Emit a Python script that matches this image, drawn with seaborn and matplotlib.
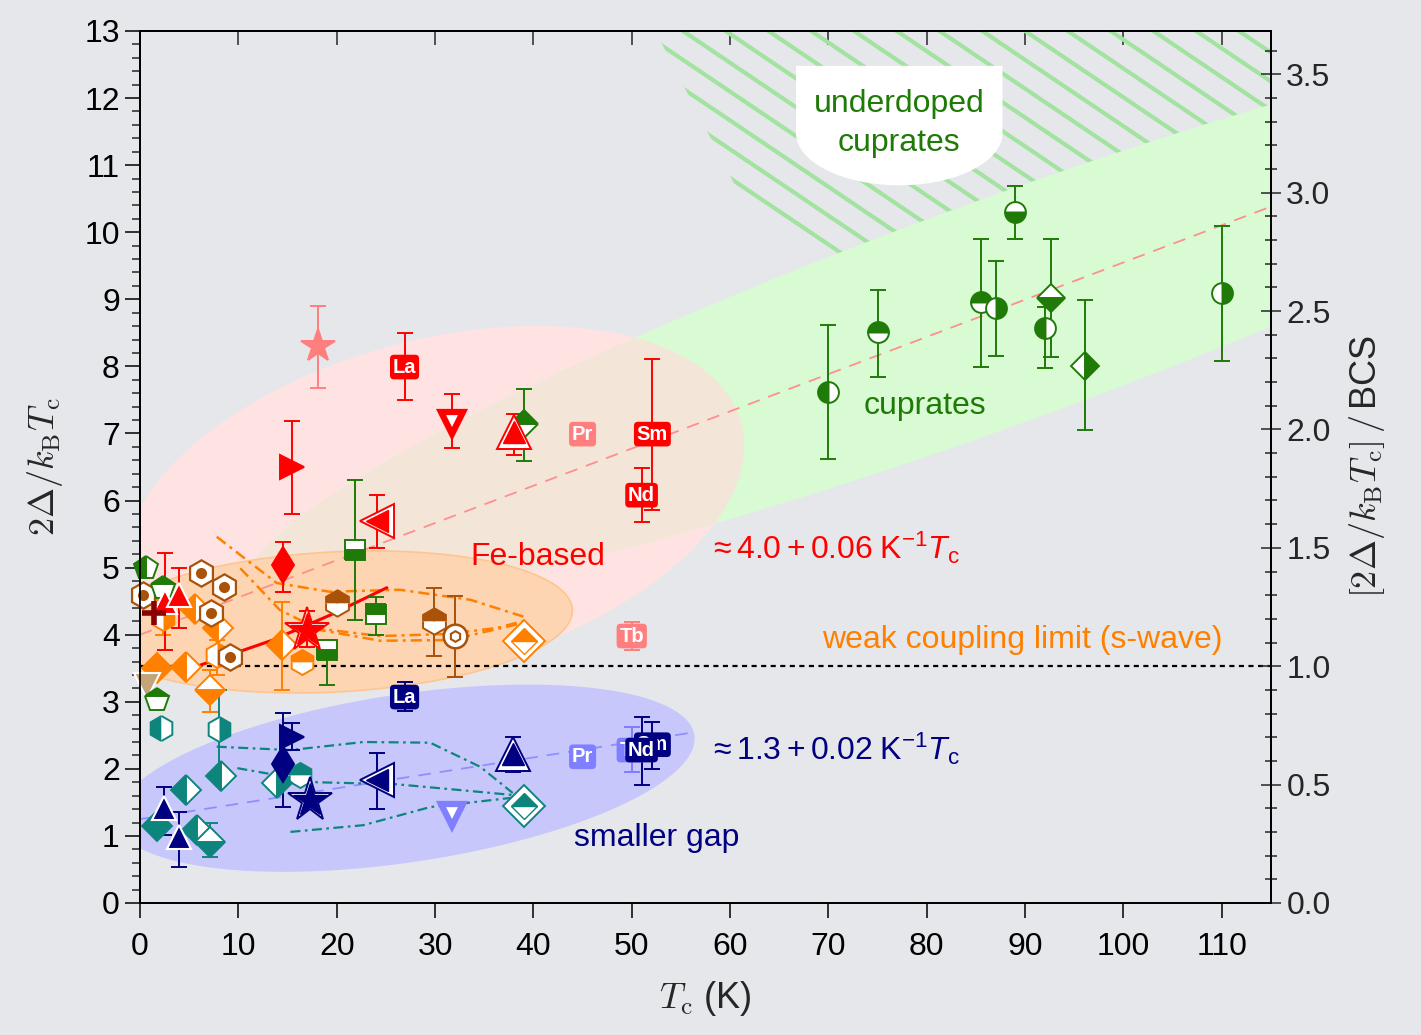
import numpy as np
import matplotlib
matplotlib.use("Agg")
import matplotlib.pyplot as plt
import seaborn as sns
from matplotlib.patches import Polygon
from matplotlib.ticker import MultipleLocator, FormatStrFormatter

# ---------------- values ----------------
# Fe-based, large gap (red)
fe_tc  = [18.1, 15.5, 31.7, 38.0, 24.1, 14.5, 17.0, 2.5, 4.0, 1.4]
fe_gap = [8.30, 6.50, 7.16, 7.02, 5.70, 5.04, 4.07, 4.49, 4.59, 4.32]
fe_lo  = [7.68, 5.80, 6.78, 6.68, 5.29, 4.64, 3.82, 3.77, 4.10, None]
fe_hi  = [8.90, 7.19, 7.59, 7.29, 6.08, 5.38, 4.35, 5.22, 4.99, None]

# Fe-based, small gap (navy)
sg_tc  = [2.4, 4.0, 15.5, 14.5, 17.3, 24.1, 37.9, 31.7]
sg_gap = [1.41, 0.98, 2.48, 2.07, 1.54, 1.83, 2.22, 1.31]
sg_lo  = [1.01, 0.54, 2.28, 1.43, None, 1.40, 1.95, None]
sg_hi  = [1.73, 1.36, 2.68, 2.83, None, 2.24, 2.47, None]

# 1111 compounds labelled by rare earth
re_big_lbl = ["La", "Pr", "Sm", "Nd", "Tb"]
re_big_tc  = [26.9, 45.0, 52.1, 51.0, 50.0]
re_big_gap = [7.99, 6.99, 6.99, 6.08, 3.98]
re_big_lo  = [7.50, None, 5.86, 5.68, 3.77]
re_big_hi  = [8.50, None, 8.11, 6.48, 4.19]
re_sm_lbl = ["La", "Pr", "Tb", "Sm", "Nd"]
re_sm_tc  = [26.9, 45.0, 50.0, 52.1, 51.0]
re_sm_gap = [3.07, 2.18, 2.28, 2.36, 2.28]
re_sm_lo  = [2.86, None, 1.95, 2.00, 1.76]
re_sm_hi  = [3.29, None, 2.62, 2.70, 2.77]

# green symbols inside the Fe-based region
gf_tc  = [39.0, 21.9, 24.0, 19.0, 0.6, 2.3, 1.7]
gf_gap = [7.14, 5.26, 4.31, 3.77, 5.00, 4.69, 3.03]
gf_lo  = [6.59, 4.22, 4.00, 3.25, None, None, None]
gf_hi  = [7.66, 6.31, 4.56, 3.92, None, None, None]

# single-gap / weak-coupling symbols (orange)
or_tc  = [1.7, 4.7, 5.6, 7.9, 7.1, 14.4, 2.3, 7.8, 16.5, 39.0]
or_gap = [3.50, 3.52, 4.38, 4.10, 3.18, 3.85, 4.25, 3.70, 3.59, 3.90]
or_lo  = [None, None, None, None, 2.85, 3.18, 4.00, 3.40, None, None]
or_hi  = [None, None, None, None, 3.47, 4.49, 4.52, 3.92, None, None]

# brown symbols
br_tc  = [0.3, 6.2, 8.5, 7.2, 9.2, 20.0, 29.9, 32.0, 0.7]
br_gap = [4.59, 4.92, 4.71, 4.32, 3.67, 4.47, 4.20, 3.98, 3.23]
br_lo  = [None, None, None, None, None, 4.35, 3.68, 3.37, None]
br_hi  = [None, None, None, None, None, 4.55, 4.70, 4.58, None]

# teal symbols (small gap)
tl_tc  = [2.1, 8.0, 8.2, 4.7, 1.7, 5.8, 7.1, 16.3, 13.9, 39.0]
tl_gap = [2.61, 2.59, 1.89, 1.69, 1.15, 1.09, 0.91, 1.91, 1.79, 1.45]
tl_lo  = [None, 1.88, None, None, None, None, 0.69, None, None, None]
tl_hi  = [None, 3.18, None, None, None, None, 1.19, None, None, None]

# cuprates
cu_tc  = [70.0, 75.0, 85.5, 87.0, 89.0, 92.0, 92.6, 96.1, 110.0]
cu_gap = [7.62, 8.51, 8.96, 8.87, 10.30, 8.57, 9.02, 8.01, 9.09]
cu_lo  = [6.62, 7.84, 7.99, 8.15, 9.90, 7.98, 8.14, 7.05, 8.08]
cu_hi  = [8.62, 9.14, 9.90, 9.57, 10.69, 8.88, 9.90, 8.99, 10.09]

# gap vs Tc traces (dash-dot curves) and the red solid curve
or_curve1_tc = [7.8, 13.9, 19.3, 26.4, 33.6, 39.4]
or_curve1_g  = [5.46, 4.77, 4.64, 4.67, 4.52, 4.25]
or_curve2_tc = [10.2, 14.2, 18.3, 24.4, 31.5, 39.4]
or_curve2_g  = [4.99, 4.37, 4.07, 3.91, 3.92, 4.19]
or_curve3_tc = [17.6, 24.4, 31.2, 36.3, 39.4]
or_curve3_g  = [4.10, 3.98, 4.01, 4.10, 4.22]
tl_curve1_tc = [7.8, 15.3, 22.7, 29.5, 34.6, 37.9]
tl_curve1_g  = [2.33, 2.28, 2.40, 2.39, 2.03, 1.64]
tl_curve2_tc = [9.9, 18.0, 26.1, 32.8, 37.9]
tl_curve2_g  = [2.01, 1.80, 1.77, 1.68, 1.61]
tl_curve3_tc = [15.3, 22.7, 29.5, 37.9]
tl_curve3_g  = [1.06, 1.16, 1.43, 1.57]
red_curve_tc = [5.6, 13.5, 19.3, 25.1]
red_curve_g  = [3.52, 3.92, 4.29, 4.70]

# linear trends and BCS value
fit_big = (4.0, 0.0555)
fit_small = (1.25, 0.023)
bcs = 3.53

# ---------------- colours ----------------
RED, SALMON, MAROON = "#ff0000", "#ff7f7f", "#8b0000"
NAVY, LBLUE = "#000080", "#7f7fff"
GREEN, TEAL = "#1f7a08", "#0e857c"
ORANGE, BROWN, TAN = "#ff8000", "#a8520a", "#c4a57a"
BG = "#e6e7eb"

# styles: (marker, colour, fillstyle, kind, size)
fe_style = [("*", SALMON, "full", "plain", 25), (">", RED, "full", "plain", 17),
            ("v", RED, "full", "thick", 16), ("^", RED, "full", "double", 16),
            ("<", RED, "full", "double", 16), ("d", RED, "full", "plain", 18),
            ("*", RED, "full", "double", 25), ("^", RED, "full", "white", 17),
            ("^", RED, "full", "white", 17), ("+", MAROON, "full", "cross", 17)]
sg_style = [("^", NAVY, "full", "white", 17), ("^", NAVY, "full", "white", 17),
            (">", NAVY, "full", "plain", 17), ("d", NAVY, "full", "plain", 18),
            ("*", NAVY, "full", "double", 25), ("<", NAVY, "full", "double", 16),
            ("^", NAVY, "full", "double", 16), ("v", LBLUE, "full", "thick", 16)]
gf_style = [("D", GREEN, "top", "plain", 14), ("s", GREEN, "bottom", "plain", 15),
            ("s", GREEN, "top", "plain", 15), ("s", GREEN, "bottom", "plain", 15),
            ("p", GREEN, "left", "plain", 18), ("p", GREEN, "top", "plain", 18),
            ("p", GREEN, "top", "plain", 18)]
or_style = [("D", ORANGE, "full", "plain", 15), ("D", ORANGE, "left", "plain", 15),
            ("D", ORANGE, "left", "plain", 15), ("D", ORANGE, "left", "plain", 15),
            ("D", ORANGE, "bottom", "plain", 15), ("D", ORANGE, "left", "plain", 15),
            ("h", ORANGE, "right", "plain", 18), ("h", ORANGE, "right", "plain", 18),
            ("h", ORANGE, "top", "plain", 18), ("D", ORANGE, "top", "double", 13)]
br_style = [("h", BROWN, "full", "dot", 19)] * 5 + [
            ("h", BROWN, "top", "plain", 19), ("h", BROWN, "top", "plain", 19),
            ("o", BROWN, "full", "ball", 17), ("v", TAN, "full", "white", 19)]
tl_style = [("h", TEAL, "left", "plain", 18), ("h", TEAL, "right", "plain", 18),
            ("D", TEAL, "left", "plain", 15), ("D", TEAL, "left", "plain", 15),
            ("D", TEAL, "full", "plain", 15), ("D", TEAL, "left", "plain", 15),
            ("D", TEAL, "bottom", "plain", 15), ("h", TEAL, "top", "plain", 18),
            ("D", TEAL, "right", "plain", 15), ("D", TEAL, "top", "double", 13)]
cu_style = [("o", GREEN, "left", "plain", 15), ("o", GREEN, "top", "plain", 15),
            ("o", GREEN, "top", "plain", 15), ("o", GREEN, "right", "plain", 15),
            ("o", GREEN, "bottom", "plain", 15), ("o", GREEN, "left", "plain", 15),
            ("D", GREEN, "bottom", "plain", 14), ("D", GREEN, "right", "plain", 14),
            ("o", GREEN, "right", "plain", 15)]
re_big_col = [RED, SALMON, RED, RED, SALMON]
re_sm_col = [NAVY, LBLUE, LBLUE, NAVY, NAVY]

# ---------------- figure ----------------
sns.set_theme(style="ticks", rc={"axes.facecolor": BG, "figure.facecolor": BG,
                                 "axes.edgecolor": "black", "axes.linewidth": 1.3})
plt.rcParams["font.family"] = ["Liberation Sans", "DejaVu Sans"]
plt.rcParams["mathtext.fontset"] = "custom"
plt.rcParams["mathtext.rm"] = "Liberation Sans"
plt.rcParams["mathtext.it"] = "Liberation Sans:italic"
plt.rcParams["mathtext.bf"] = "Liberation Sans:bold"

FIG_W, FIG_H = 1421, 1035
fig = plt.figure(figsize=(FIG_W / 100, FIG_H / 100), dpi=100)
AX_POS = [140 / FIG_W, 132 / FIG_H, 1131 / FIG_W, 872 / FIG_H]
ax = fig.add_axes(AX_POS)
X_MAX, Y_MAX = 115, 13
ax.set_xlim(0, X_MAX)
ax.set_ylim(0, Y_MAX)
SX = FIG_W * AX_POS[2] / X_MAX   # px per K
SY = FIG_H * AX_POS[3] / Y_MAX   # px per unit


def ellipse_pts(cx, cy, a, b, ang, n=240):
    t = np.linspace(0, 2 * np.pi, n)
    th = np.deg2rad(ang)
    dx = a * np.cos(t) * np.cos(th) - b * np.sin(t) * np.sin(th)
    dy = a * np.cos(t) * np.sin(th) + b * np.sin(t) * np.cos(th)
    return np.column_stack([cx + dx / SX, cy + dy / SY])


# regions
hatch_reg = Polygon([(52.4, 13.0), (115, 13.0), (115, 11.0), (70.2, 9.5), (60.5, 10.7)],
                    closed=True, fill=False, ec="none")
ax.add_patch(hatch_reg)
slope = -np.tan(np.deg2rad(34)) * SX / SY
for c in np.arange(9.0, 30.0, 0.43):
    xs = np.array([40, 115])
    ln, = ax.plot(xs, c + slope * xs, color="#a3e3a0", lw=3.0, zorder=1.0,
                  solid_capstyle="butt")
    ln.set_clip_path(hatch_reg)

pink_pts = ellipse_pts(29.9, 5.93, 318, 165, 15)
ax.add_patch(Polygon(pink_pts, closed=True, fc="#ffe3e3", ec="none", zorder=1.1))
cup = Polygon(ellipse_pts(87.4, 8.81, 800, 112, 20), closed=True, fc="#d9fbd3",
              ec="none", zorder=1.2)
ax.add_patch(cup)
beige = Polygon(pink_pts, closed=True, fc="#f3e6d8", ec="none", zorder=1.3)
ax.add_patch(beige)
beige.set_clip_path(cup)
ax.add_patch(Polygon(ellipse_pts(19.8, 4.19, 238, 70, 3), closed=True, fc="#fdd5b2",
                     ec="#ffc590", lw=1.2, zorder=1.5))
ax.add_patch(Polygon(ellipse_pts(27.0, 1.86, 292, 84, 8.5), closed=True, fc="#c7c7fc",
                     ec="none", zorder=1.5))

# "underdoped cuprates" tag
t = np.linspace(0, -np.pi, 60)
box = [(66.7, 12.48), (87.7, 12.48)] + list(zip(77.2 + 10.5 * np.cos(t), 11.48 + 0.78 * np.sin(t)))
ax.add_patch(Polygon(box, closed=True, fc="white", ec="none", zorder=1.4))
ax.text(77.2, 11.62, "underdoped\ncuprates", color=GREEN, fontsize=23, ha="center",
        va="center", linespacing=1.42, zorder=1.6)

# trend lines
xs = np.array([0, X_MAX])
sns.lineplot(x=xs, y=fit_big[0] + fit_big[1] * xs, ax=ax, color="#ff8f8f", lw=1.3,
             linestyle=(0, (7, 5)), zorder=2)
xs2 = np.array([0, 56])
sns.lineplot(x=xs2, y=fit_small[0] + fit_small[1] * xs2, ax=ax, color="#8f8fff", lw=1.3,
             linestyle=(0, (7, 5)), zorder=2)
sns.lineplot(x=xs, y=[bcs, bcs], ax=ax, color="black", lw=1.6, linestyle=(0, (2.3, 2.0)),
             zorder=2)

for cx, cy in [(or_curve1_tc, or_curve1_g), (or_curve2_tc, or_curve2_g), (or_curve3_tc, or_curve3_g)]:
    sns.lineplot(x=cx, y=cy, ax=ax, sort=False, estimator=None, color=ORANGE, lw=1.8,
                 linestyle=(0, (4.5, 2, 1.2, 2)), zorder=3)
for cx, cy in [(tl_curve1_tc, tl_curve1_g), (tl_curve2_tc, tl_curve2_g), (tl_curve3_tc, tl_curve3_g)]:
    sns.lineplot(x=cx, y=cy, ax=ax, sort=False, estimator=None, color=TEAL, lw=1.6,
                 linestyle=(0, (4.5, 2, 1.2, 2)), zorder=3)
sns.lineplot(x=red_curve_tc, y=red_curve_g, ax=ax, sort=False, estimator=None, color=RED,
             lw=2.2, zorder=3)


def ebar(T, g, lo, hi, color):
    if lo is None:
        return
    ax.errorbar(T, g, yerr=[[g - lo], [hi - g]], fmt="none", ecolor=color, elinewidth=1.4,
                capsize=5.5, capthick=1.4, zorder=4)


def draw(tcs, gaps, los, his, styles, z=5):
    for T, g, lo, hi, (m, col, fill, kind, ms) in zip(tcs, gaps, los, his, styles):
        ebar(T, g, lo, hi, col)
        kw = dict(ls="none", marker=m, clip_on=False)
        if kind == "double":
            ax.plot(T, g, ms=ms + 8, mfc="white", mec=col, mew=1.4, zorder=z, **kw)
            ax.plot(T, g, ms=ms, mfc=col, markerfacecoloralt="white", fillstyle=fill,
                    mec=col, mew=1.0, zorder=z + 0.5, **kw)
        elif kind == "thick":
            ax.plot(T, g, ms=ms, mfc="white", mec=col, mew=4.5, zorder=z, **kw)
        elif kind == "dot":
            ax.plot(T, g, ms=ms, mfc="white", mec=col, mew=1.6, zorder=z, **kw)
            ax.plot(T, g, ls="none", marker="o", ms=ms * 0.42, mfc=col, mec="none",
                    zorder=z + 0.5, clip_on=False)
        elif kind == "ball":
            ax.plot(T, g, ms=ms, mfc="white", mec=col, mew=1.8, zorder=z, **kw)
            ax.plot(T, g, ls="none", marker="h", ms=ms * 0.45, mfc="none", mec=col, mew=1.5,
                    zorder=z + 0.5)
        elif kind == "white":
            ax.plot(T, g, ms=ms, mfc=col, mec="white", mew=1.5, zorder=z, **kw)
        elif kind == "cross":
            ax.plot(T, g, ms=ms, mec=col, mew=4, zorder=z, **kw)
        else:
            ax.plot(T, g, ms=ms, mfc=col, markerfacecoloralt="white", fillstyle=fill,
                    mec=col, mew=1.4, zorder=z, **kw)


def tags(lbls, tcs, gaps, los, his, cols):
    for i, (s, T, g, lo, hi, col) in enumerate(zip(lbls, tcs, gaps, los, his, cols)):
        ebar(T, g, lo, hi, col)
        ax.text(T, g, s, ha="center", va="center", color="white", fontsize=14.5,
                fontweight="bold", zorder=6 + 0.01 * i,
                family=["Liberation Sans Narrow", "Liberation Sans"],
                bbox=dict(boxstyle="round,pad=0.14,rounding_size=0.2", fc=col, ec="none"))


draw(or_tc, or_gap, or_lo, or_hi, or_style)
draw(br_tc, br_gap, br_lo, br_hi, br_style, z=5.1)
draw(tl_tc, tl_gap, tl_lo, tl_hi, tl_style)
draw(gf_tc, gf_gap, gf_lo, gf_hi, gf_style, z=5.2)
draw(cu_tc, cu_gap, cu_lo, cu_hi, cu_style)
draw(fe_tc, fe_gap, fe_lo, fe_hi, fe_style, z=5.3)
draw(sg_tc, sg_gap, sg_lo, sg_hi, sg_style, z=5.3)
tags(re_big_lbl, re_big_tc, re_big_gap, re_big_lo, re_big_hi, re_big_col)
tags(re_sm_lbl, re_sm_tc, re_sm_gap, re_sm_lo, re_sm_hi, re_sm_col)

# annotations
ax.text(40.5, 5.16, "Fe-based", color=RED, fontsize=23, ha="center", va="center", zorder=7)
ax.text(79.8, 7.41, "cuprates", color=GREEN, fontsize=23, ha="center", va="center", zorder=7)
ax.text(52.5, 0.97, "smaller gap", color=NAVY, fontsize=23, ha="center", va="center", zorder=7)
ax.text(69.3, 3.92, "weak coupling limit (s-wave)", color=ORANGE, fontsize=23,
        ha="left", va="center", zorder=7)
ax.text(57.8, 5.29, r"$\approx 4.0 + 0.06\;\mathrm{K}^{-1}\mathit{T}_\mathrm{c}$", color=RED,
        fontsize=23, ha="left", va="center", zorder=7)
ax.text(57.8, 2.30, r"$\approx 1.3 + 0.02\;\mathrm{K}^{-1}\mathit{T}_\mathrm{c}$", color=NAVY,
        fontsize=23, ha="left", va="center", zorder=7)

# axes, ticks, labels
ax.xaxis.set_major_locator(MultipleLocator(10))
ax.yaxis.set_major_locator(MultipleLocator(1))
ax.yaxis.set_minor_locator(MultipleLocator(0.2))
ax.tick_params(axis="both", which="major", direction="out", length=11, width=1.1,
               labelsize=23, colors="black")
ax.tick_params(axis="y", which="minor", direction="out", length=6, width=1.1, left=True)
ax.tick_params(axis="x", pad=10)
top = ax.secondary_xaxis("top")
top.set_xticks(range(0, 111, 10))
top.tick_params(direction="in", length=10, width=1.1, labeltop=False)

ax2 = ax.twinx()
ax2.set_ylim(0, Y_MAX / bcs)
ax2.yaxis.set_major_locator(MultipleLocator(0.5))
ax2.yaxis.set_minor_locator(MultipleLocator(0.1))
ax2.yaxis.set_major_formatter(FormatStrFormatter("%.1f"))
ax2.tick_params(axis="y", which="major", direction="inout", length=14, width=1.1, labelsize=23, pad=4)
ax2.tick_params(axis="y", which="minor", direction="inout", length=8, width=1.1)

ax.set_ylabel(r"$2\Delta/k_\mathrm{B}T_\mathrm{c}$", fontsize=26, math_fontfamily="cm", labelpad=14)
ax2.set_ylabel(r"$[2\Delta/k_\mathrm{B}T_\mathrm{c}]\,/\,$BCS", fontsize=26, math_fontfamily="cm",
               labelpad=12)
ax.set_xlabel(r"$T_\mathrm{c}$ (K)", fontsize=26, math_fontfamily="cm", labelpad=12)

fig.savefig("out.png", dpi=100, facecolor=BG)
